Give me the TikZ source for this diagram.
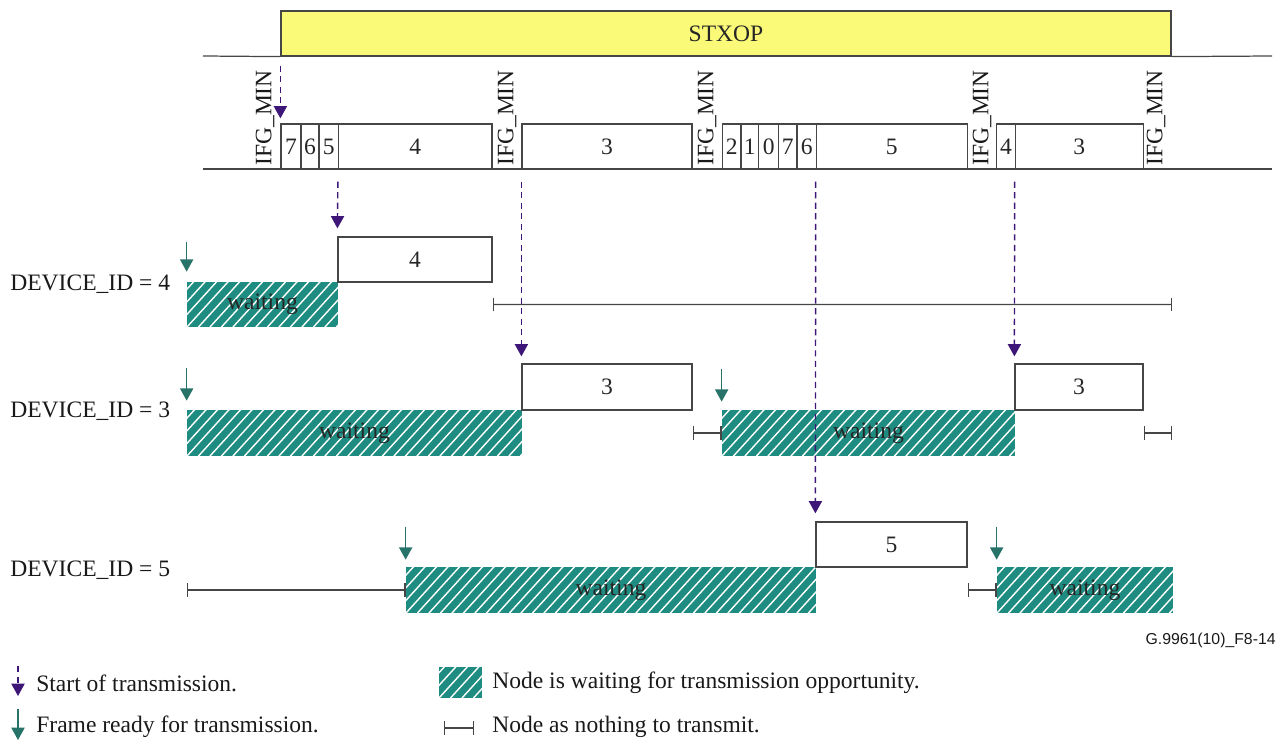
\documentclass[tikz,border=0pt]{standalone}
\usepackage{fontspec}
\setmainfont{Liberation Serif}
\newfontfamily\figsans{Liberation Sans}
\usetikzlibrary{arrows.meta,fit}

\definecolor{waitgreen}{RGB}{30,140,128}
\definecolor{readygreen}{RGB}{40,115,105}
\definecolor{startpurple}{RGB}{62,22,120}
\definecolor{stxopyellow}{RGB}{250,250,120}
\definecolor{boxgray}{RGB}{70,70,70}

\tikzset{
  slot/.style={draw=boxgray, fill=white, line width=0.7pt, inner sep=0pt},
  waiting/.style={fill=waitgreen, inner sep=0pt,
    path picture={\foreach \k in {-6,...,40}
      \draw[white, line width=0.8pt] ([xshift=\k*0.23cm]path picture bounding box.south west) -- ++(2cm,2.2cm);}},
  start/.style={draw=startpurple, dash pattern=on 3.5pt off 2.5pt, line width=0.8pt,
    -{Triangle[length=7pt,width=7.5pt,fill=startpurple]}},
  ready/.style={draw=readygreen, line width=0.8pt, -{Triangle[length=7pt,width=7.5pt,fill=readygreen]}},
  idle/.style={draw=boxgray, line width=0.7pt, {Bar[width=7.5pt]}-{Bar[width=7.5pt]}},
  ifg/.style={rotate=90, anchor=west, inner sep=0pt},
  device/.style={anchor=west, inner sep=0pt},
  every label/.style={inner sep=0pt, text=black!85},
}

\begin{document}
\begin{tikzpicture}[x=0.02cm, y=-0.02cm, font=\fontsize{13.4}{16}\selectfont, text=black!90]
  \useasboundingbox (0,0) rectangle (1286,740);

  % STXOP bar and time axes
  \node[fit={(281,11) (1171,56)}, draw=boxgray, fill=stxopyellow, line width=0.7pt, inner sep=0pt,
    label={center:STXOP}] (stxop) {};
  \coordinate (topl) at (203,56);
  \coordinate (topr) at (1272,56);
  \coordinate (basel) at (203,169);
  \coordinate (baser) at (1272,169);
  \draw[boxgray, line width=0.7pt] (topl) -- (stxop.south west) (stxop.south east) -- (topr);
  \draw[boxgray, line width=0.7pt] (basel) -- (baser);

  % frames on the medium
  \foreach \xa/\xb/\lbl [count=\i] in {281/301/7, 301/319/6, 319/338.5/5, 338.5/492/4, 522/692/3,
      722.5/741/2, 741/758.7/1, 758.7/778.7/0, 778.7/797/7, 797/816.3/6, 816.3/967.3/5,
      996.7/1015.3/4, 1015.3/1143.3/3}
    \node[slot, fit={(\xa,124) (\xb,169)}, label={center:\lbl}] (frm\i) {};

  \foreach \x/\nm in {265/a, 507/b, 707/c, 982/d, 1156/e}
    \node[ifg] (ifg\nm) at (\x,166) {IFG\_MIN};

  % DEVICE_ID = 4
  \node[device] (dev4) at (10,284) {DEVICE\_ID = 4};
  \node[waiting, fit={(187,282) (338,327)}, label={center:waiting}] (w4a) {};
  \node[slot, fit={(338,237) (492,282)}, label={center:4}] (t4a) {};
  \coordinate (i4b) at (1172,304.5);
  \draw[idle] (t4a.south east |- w4a.east) -- (i4b);

  % DEVICE_ID = 3
  \node[device] (dev3) at (10,411) {DEVICE\_ID = 3};
  \node[waiting, fit={(187,410) (522,456)}, label={center:waiting}] (w3a) {};
  \node[slot, fit={(522,364) (692,410)}, label={center:3}] (t3a) {};
  \node[waiting, fit={(722,410) (1015,456)}, label={center:waiting}] (w3b) {};
  \node[slot, fit={(1015,364) (1143,410)}, label={center:3}] (t3b) {};
  \coordinate (i3c) at (1172,433);
  \draw[idle] (t3a.south east |- w3a.east) -- (w3b.west);
  \draw[idle] (t3b.south east |- w3b.east) -- (i3c);

  % DEVICE_ID = 5
  \node[device] (dev5) at (10,570) {DEVICE\_ID = 5};
  \coordinate (i5a) at (187,590);
  \node[waiting, fit={(406,567) (816,613)}, label={center:waiting}] (w5a) {};
  \node[slot, fit={(816,522) (967,567)}, label={center:5}] (t5a) {};
  \node[waiting, fit={(997,567) (1173,613)}, label={center:waiting}] (w5b) {};
  \draw[idle] (i5a) -- (w5a.west);
  \draw[idle] (t5a.south east |- w5b.west) -- (w5b.west);

  % frame ready
  \draw[ready] ([yshift=0.8cm]w4a.north west) -- ([yshift=0.2cm]w4a.north west);
  \draw[ready] ([yshift=0.84cm]w3a.north west) -- ([yshift=0.18cm]w3a.north west);
  \draw[ready] ([yshift=0.82cm]w3b.north west) -- ([yshift=0.16cm]w3b.north west);
  \draw[ready] ([yshift=0.8cm]w5a.north west) -- ([yshift=0.14cm]w5a.north west);
  \draw[ready] ([yshift=0.8cm]w5b.north west) -- ([yshift=0.14cm]w5b.north west);

  % start of transmission
  \draw[start] ([yshift=-0.18cm]stxop.south west) -- ([yshift=0.1cm]frm1.north west);
  \draw[start] ([yshift=-0.24cm]frm4.south west) -- ([yshift=0.16cm]t4a.north west);
  \draw[start] ([yshift=-0.24cm]frm5.south west) -- ([yshift=0.14cm]t3a.north west);
  \draw[start] ([yshift=-0.24cm]frm11.south west) -- ([yshift=0.16cm]t5a.north west);
  \draw[start] ([yshift=-0.24cm]frm13.south west) -- ([yshift=0.14cm]t3b.north west);

  \node[anchor=east, inner sep=0pt, font=\figsans\fontsize{9}{11}\selectfont] (figid) at (1276,640) {G.9961(10)\_F8-14};

  % legend
  \coordinate (lgsa) at (18,666);
  \coordinate (lgsb) at (18,696);
  \draw[start] (lgsa) -- (lgsb);
  \node[device] (lgstart) at (36,683) {Start of transmission.};
  \coordinate (lgra) at (18,709);
  \coordinate (lgrb) at (18,740);
  \draw[ready] (lgra) -- (lgrb);
  \node[device] (lgready) at (36,727) {Frame ready for transmission.};
  \node[waiting, fit={(439,667) (482,698)}] (lgwait) {};
  \node[device] (lgwaittext) at (492,683) {Node is waiting for transmission opportunity.};
  \coordinate (lgia) at (444,728);
  \coordinate (lgib) at (474,728);
  \draw[idle] (lgia) -- (lgib);
  \node[device] (lgidle) at (492,727) {Node as nothing to transmit.};
\end{tikzpicture}
\end{document}
